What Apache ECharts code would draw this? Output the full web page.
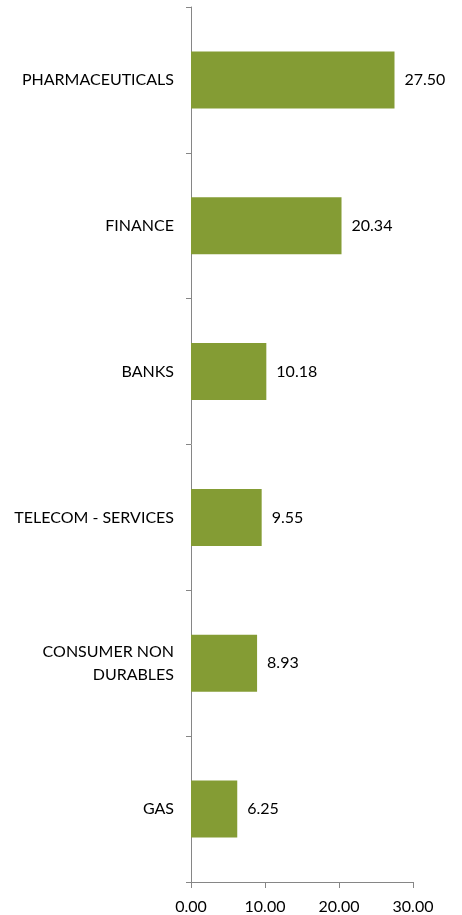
<!DOCTYPE html>
<html><head><meta charset="utf-8">
<script src="https://cdn.jsdelivr.net/npm/echarts@6/dist/echarts.min.js"></script>
<style>html,body{margin:0;padding:0;background:#fff}#c{width:462px;height:915px}</style>
</head><body><div id="c"></div>
<script>
const categories = ['PHARMACEUTICALS','FINANCE','BANKS','TELECOM - SERVICES','CONSUMER NON\nDURABLES','GAS'];
const values = [27.50, 20.34, 10.18, 9.55, 8.93, 6.25];
const xTicks = [0, 10, 20, 30];

const chart = echarts.init(document.getElementById('c'));
const font = 'Lato, "Open Sans", sans-serif';
chart.setOption({
  animation: false,
  grid: {left: 191, right: 49, top: 7, bottom: 33, containLabel: false},
  xAxis: {
    type: 'value', min: xTicks[0], max: xTicks[xTicks.length-1], interval: 10,
    axisLine: {show: true, lineStyle: {color: '#868686', width: 1}},
    axisTick: {show: true, length: 6, lineStyle: {color: '#868686'}},
    splitLine: {show: false},
    axisLabel: {formatter: v => v.toFixed(2), color: '#000', fontFamily: font, fontSize: 16, margin: 17}
  },
  yAxis: {
    type: 'category', data: categories, inverse: true,
    axisLine: {show: true, lineStyle: {color: '#868686', width: 1}},
    axisTick: {show: true, length: 5, lineStyle: {color: '#868686'}},
    axisLabel: {color: '#000', fontFamily: font, fontSize: 16, margin: 17, lineHeight: 23, align: 'right', padding: [4, 0, 0, 0]}
  },
  series: [{
    type: 'bar', data: values, barWidth: 57,
    itemStyle: {color: '#849c34'},
    label: {show: true, position: 'right', distance: 10, formatter: p => p.value.toFixed(2),
      color: '#000', fontFamily: font, fontSize: 16, padding: [4, 0, 0, 0]}
  }]
});
</script></body></html>
